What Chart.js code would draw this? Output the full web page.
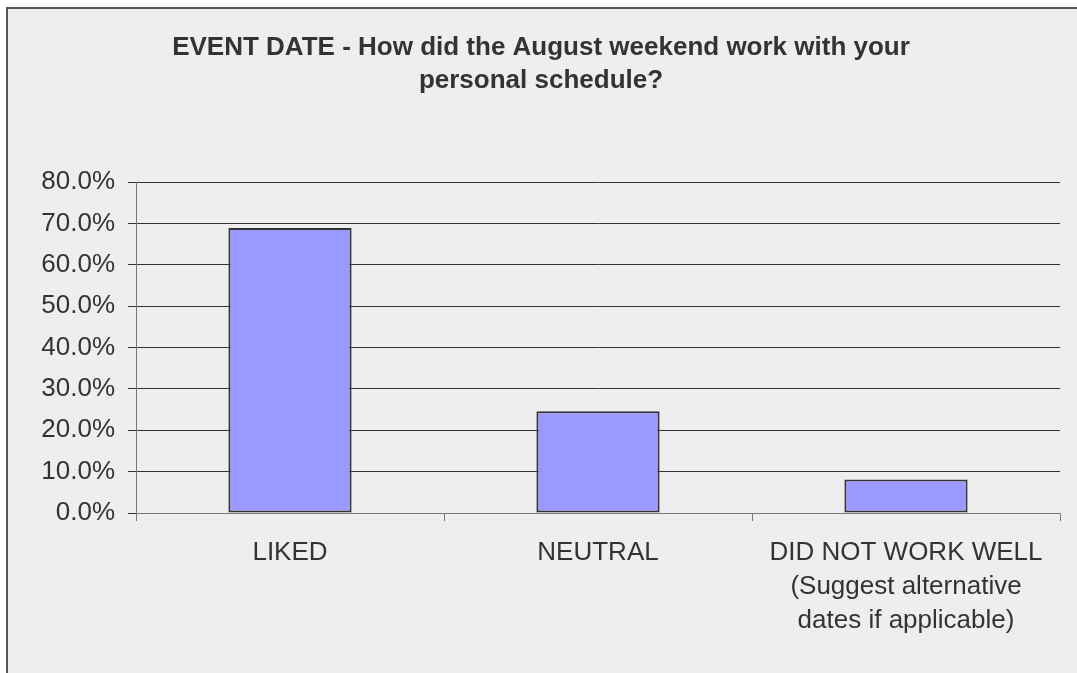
<!DOCTYPE html>
<html>
<head>
<meta charset="utf-8">
<script src="https://cdn.jsdelivr.net/npm/chart.js@4/dist/chart.umd.min.js"></script>
<style>
  html, body { margin: 0; padding: 0; background: #fff; overflow: hidden; }
  #wrap { width: 1077px; height: 673px; position: relative; }
</style>
</head>
<body>
<div id="wrap"><canvas id="grafica"></canvas></div>
<script>
const categorias = [
  'LIKED',
  'NEUTRAL',
  ['DID NOT WORK WELL', '(Suggest alternative', 'dates if applicable)']
];
const porcentajes = [68.9, 24.6, 8.1];
const tituloLineas = [
  'EVENT DATE - How did the August weekend work with your',
  'personal schedule?'
];
const ejeMin = 0;
const ejeMax = 80;
const ejePaso = 10;

// fondo gris con marco
const marco = {
  id: 'marco',
  beforeDraw(chart) {
    const ctx = chart.ctx;
    ctx.save();
    ctx.fillStyle = '#ffffff';
    ctx.fillRect(0, 0, chart.width, chart.height);
    ctx.fillStyle = '#eeeeee';
    ctx.fillRect(7, 8, chart.width, chart.height);
    ctx.strokeStyle = '#555555';
    ctx.lineWidth = 2;
    ctx.strokeRect(7, 8, chart.width + 10, chart.height + 10);
    ctx.restore();
  }
};

new Chart(document.getElementById('grafica'), {
  type: 'bar',
  data: {
    labels: categorias,
    datasets: [{
      data: porcentajes,
      backgroundColor: '#9999ff',
      borderColor: '#333333',
      borderWidth: 2,
      borderSkipped: false,
      categoryPercentage: 1,
      barPercentage: 0.4
    }]
  },
  options: {
    responsive: true,
    maintainAspectRatio: false,
    animation: false,
    layout: { padding: { left: 22, right: 17, top: 0, bottom: 0 } },
    plugins: {
      legend: { display: false },
      tooltip: { enabled: false },
      title: {
        display: true,
        text: tituloLineas,
        color: '#333333',
        font: { family: 'Liberation Sans', size: 26, weight: 'bold', lineHeight: 1.27 },
        padding: { top: 31, bottom: 85 }
      }
    },
    scales: {
      x: {
        grid: { drawOnChartArea: false, drawTicks: true, tickLength: 8, color: '#777777', offset: true },
        border: { color: '#777777', width: 1 },
        ticks: {
          color: '#333333',
          font: { family: 'Liberation Sans', size: 26, lineHeight: 1.3 },
          padding: 15,
          maxRotation: 0,
          autoSkip: false
        },
        afterFit(scale) { scale.height = 160; }
      },
      y: {
        min: ejeMin,
        max: ejeMax,
        grid: { color: '#333333', tickLength: 8, lineWidth: 1 },
        border: { color: '#777777', width: 1 },
        ticks: {
          stepSize: ejePaso,
          color: '#333333',
          padding: 13,
          font: { family: 'Liberation Sans', size: 26 },
          callback: v => v.toFixed(1) + '%'
        },
        afterFit(scale) { scale.width = 114; }
      }
    }
  },
  plugins: [marco]
});
</script>
</body>
</html>
